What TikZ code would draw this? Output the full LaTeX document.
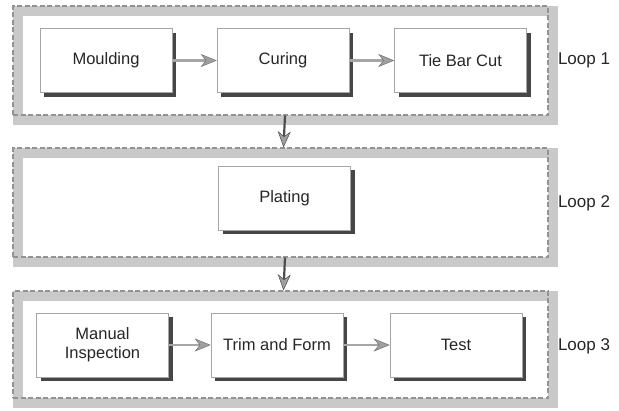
\documentclass[tikz,border=0pt]{standalone}
\usepackage{fontspec}
\setmainfont{Liberation Sans}
\usetikzlibrary{arrows.meta,shadows,calc}
\begin{document}
\begin{tikzpicture}[x=1pt,y=-1pt,
  loopbox/.style={draw=gray!85, dashed, dash pattern=on 5pt off 2.5pt, line width=1.3pt, rectangle, minimum width=535pt, inner sep=0pt},
  band/.style={draw=gray!42, line width=10pt},
  stepbox/.style={draw=gray!70, line width=0.6pt, fill=white, rectangle, minimum width=132pt, minimum height=64pt, inner sep=0pt, align=center, font=\fontsize{16.5}{20}\selectfont, text=black!85,
    drop shadow={shadow xshift=4pt, shadow yshift=-4pt, fill=black!85, opacity=0.85}},
  flow/.style={draw=gray!70, line width=2.4pt, -{Stealth[length=16pt,width=13pt,inset=5pt,fill=gray!75,color=black!55,line width=0.5pt]}},
  down/.style={draw=black!70, line width=2.2pt, -{Stealth[length=16pt,width=13pt,inset=5pt,fill=gray!75,color=black!70,line width=0.5pt]}},
  looplab/.style={font=\fontsize{17}{20}\selectfont, text=black!85, inner sep=0pt}
]
\useasboundingbox (0,0) rectangle (619,410);
\fill[white] (0,0) rectangle (619,410);

% loop containers
\coordinate (l1a) at (13,6);   \coordinate (l1b) at (548,115);
\coordinate (l2a) at (13,148); \coordinate (l2b) at (548,257);
\coordinate (l3a) at (13,291); \coordinate (l3b) at (548,398);
\draw[band] ($(l1a)+(5,5)$) rectangle ($(l1b)+(5,5)$);
\draw[band] ($(l2a)+(5,5)$) rectangle ($(l2b)+(5,5)$);
\draw[band] ($(l3a)+(5,5)$) rectangle ($(l3b)+(5,5)$);
\node[loopbox, minimum height=109pt] (loop1) at (280.5,60.5) {};
\node[loopbox, minimum height=109pt] (loop2) at (280.5,202.5) {};
\node[loopbox, minimum height=107pt] (loop3) at (280.5,344.5) {};

\node[looplab] (lab1) at (584,60) {Loop 1};
\node[looplab] (lab2) at (584,203) {Loop 2};
\node[looplab] (lab3) at (584,346) {Loop 3};

% process boxes
\node[stepbox] (mould) at (106,60.5) {Moulding};
\node[stepbox] (cure)  at (283,60.5) {Curing};
\node[stepbox] (tie)   at (460.5,60.5) {Tie Bar Cut};
\node[stepbox] (plat)  at (284.5,198) {Plating};
\node[stepbox] (manual) at (102.5,345) {Manual\\[-1pt]Inspection};
\node[stepbox] (trim)  at (277,345) {Trim and Form};
\node[stepbox] (test)  at (456,345) {Test};

% connectors
\draw[flow] (mould) -- (cure);
\draw[flow] (cure) -- (tie);
\draw[flow] (manual) -- (trim);
\draw[flow] (trim) -- (test);
\draw[down] (loop1.south -| 285,0) -- (loop2.north -| 283.5,0);
\draw[down] (loop2.south -| 285,0) -- (loop3.north -| 283.5,0);
\end{tikzpicture}
\end{document}
